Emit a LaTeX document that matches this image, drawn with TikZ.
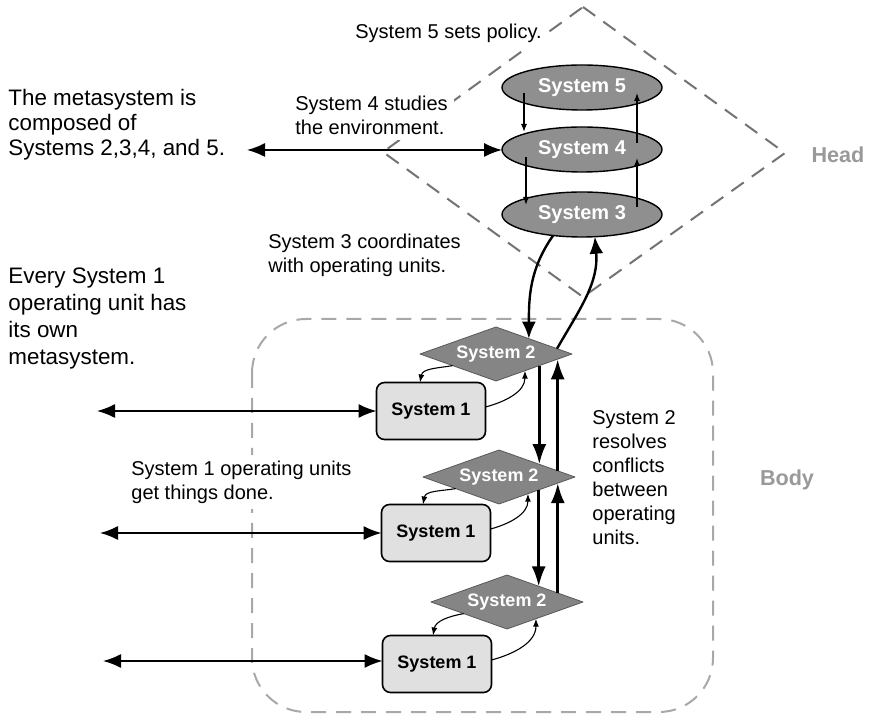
\documentclass[tikz,border=0pt]{standalone}
\usepackage{fontspec}
\setmainfont{Liberation Sans}
\usetikzlibrary{shapes.geometric}
\usetikzlibrary{arrows.meta}

\definecolor{ellgray}{gray}{0.56}
\definecolor{diagray}{gray}{0.52}
\definecolor{boxgray}{gray}{0.88}
\definecolor{headgray}{gray}{0.45}
\definecolor{bodygray}{gray}{0.66}
\definecolor{labelgray}{gray}{0.6}

\begin{document}
\begin{tikzpicture}[x=.5pt, y=.5pt, line join=round,
    note/.style={align=left, anchor=west, fill=white, inner sep=3pt, font=\fontsize{10}{12}\selectfont},
    bignote/.style={note, font=\fontsize{11.2}{12.5}\selectfont},
    partlabel/.style={inner sep=0pt, text=labelgray, font=\bfseries\fontsize{10.8}{13}\selectfont},
    sysell/.style={ellipse, draw=black, line width=.7pt, fill=ellgray, minimum width=80pt,
        minimum height=22.5pt, inner sep=0pt, outer sep=0pt, text=white, font=\bfseries\fontsize{10}{12}\selectfont},
    sysdia/.style={diamond, aspect=2.8, draw=black!65, line width=.4pt, fill=diagray, minimum width=76pt,
        minimum height=27pt, inner sep=0pt, outer sep=0pt, text=white, font=\bfseries\fontsize{9}{11}\selectfont},
    sysbox/.style={rectangle, rounded corners=4pt, draw=black, line width=.8pt, fill=boxgray,
        minimum width=54.5pt, minimum height=28.5pt, outer sep=0pt, font=\bfseries\fontsize{9}{11}\selectfont},
    small/.style={-{Latex[length=4pt,width=3pt]}, line width=.55pt},
    big/.style={{Latex[length=9pt,width=7pt]}-{Latex[length=9pt,width=7pt]}, line width=.8pt},
    heavy/.style={-{Latex[length=10pt,width=7pt]}, line width=1.3pt},
    link/.style={-{Latex[length=8.5pt,width=7pt]}, line width=1.2pt}]
    \useasboundingbox (0,0) rectangle (873,-716);

    % head and body regions
    \draw[headgray, line width=1pt, dash pattern=on 7.5pt off 5pt] (583,-7) -- (785,-153) -- (583,-297) -- (383,-152) -- cycle;
    \draw[bodygray, line width=1pt, dash pattern=on 7.5pt off 5pt, rounded corners=27pt] (252,-319) rectangle (713,-712);
    \node[partlabel] (head) at (838,-155) {Head};
    \node[partlabel] (body) at (787,-480) {Body};

    % metasystem
    \node[sysell] (S5) at (582,-87.5) {System 5};
    \node[sysell] (S4) at (582,-149.5) {System 4};
    \node[sysell] (S3) at (582,-214.5) {System 3};
    \draw[small] ([shift={(-29pt,-2.75pt)}]S5.center) -- ([shift={(-29pt,8.75pt)}]S4.center);
    \draw[small] ([shift={(-28pt,-3.75pt)}]S4.center) -- ([shift={(-28pt,4.75pt)}]S3.center);
    \draw[small] ([shift={(27.5pt,3.25pt)}]S4.center) -- ([shift={(27.5pt,-2.75pt)}]S5.center);
    \draw[small] ([shift={(27.5pt,3.75pt)}]S3.center) -- ([shift={(27.5pt,-4.25pt)}]S4.center);

    % operating units
    \node[sysdia] (D1) at (496,-354) {System 2};
    \node[sysdia] (D2) at (499,-477) {System 2};
    \node[sysdia] (D3) at (507,-602) {System 2};
    \node[sysbox] (B1) at (431,-411) {System 1};
    \node[sysbox] (B2) at (436,-533) {System 1};
    \node[sysbox] (B3) at (437,-664) {System 1};

    \draw[link] (S3.216) to[out=235, in=90] (D1.25);
    \draw[link] (D1.5) to[out=60, in=-85] (S3.300);

    \draw[heavy] (D1.-15) -- (D1.-15 |- D2.18);
    \draw[heavy] (D2.-18) -- (D2.-18 |- D3.26);
    \draw[heavy] (D2.6) -- (D2.6 |- D1.-5);
    \draw[heavy] (D3.10) -- (D3.10 |- D2.-6);

    \draw[small] (D1.195) to[out=190, in=80] ([xshift=-5.5pt]B1.north);
    \draw[small] ([yshift=2pt]B1.east) to[out=15, in=-90] (D1.330);
    \draw[small] (D2.195) to[out=190, in=80] ([xshift=-6.5pt]B2.north);
    \draw[small] ([yshift=2pt]B2.east) to[out=15, in=-90] (D2.330);
    \draw[small] (D3.195) to[out=190, in=80] ([xshift=-2pt]B3.north);
    \draw[small] ([yshift=2pt]B3.east) to[out=15, in=-90] (D3.330);

    % environment
    \coordinate (env) at (247,-150);
    \coordinate (w1) at (97,-411);
    \coordinate (w2) at (100,-533);
    \coordinate (w3) at (103,-661);
    \draw[big] (env) -- (env -| S4.west);
    \draw[big] (w1) -- (w1 -| B1.west);
    \draw[big] (w2) -- (w2 -| B2.west);
    \draw[big] (w3) -- (w3 -| B3.west);

    % notes
    \node[note] (n5) at (349,-33) {System 5 sets policy.};
    \node[note] (n4) at (289,-115) {System 4 studies\\the environment.};
    \node[note] (n3) at (262,-255) {System 3 coordinates\\with operating units.};
    \node[note] (n2) at (586,-478) {System 2\\resolves\\conflicts\\between\\operating\\units.};
    \node[note] (n1) at (125,-482) {System 1 operating units\\get things done.};
    \node[bignote] (meta) at (2,-125) {The metasystem is\\composed of\\Systems 2,3,4, and 5.};
    \node[bignote, font=\fontsize{11.2}{13.5}\selectfont] (every) at (2,-319) {Every System 1\\operating unit has\\its own\\metasystem.};
\end{tikzpicture}
\end{document}
